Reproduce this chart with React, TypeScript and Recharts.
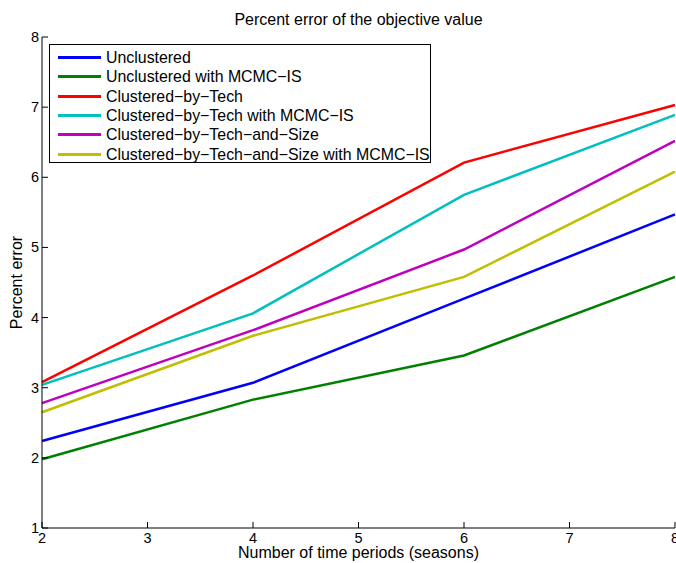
import React from 'react';
import { LineChart, Line, XAxis, YAxis, Legend, Label } from 'recharts';

// Number of time periods on the x axis
const periods = [2, 4, 6, 8];

// Percent error for each model variant
const unclustered = [2.24, 3.07, 4.27, 5.47];
const unclusteredMcmc = [1.98, 2.83, 3.46, 4.58];
const byTech = [3.08, 4.6, 6.21, 7.03];
const byTechMcmc = [3.04, 4.06, 5.75, 6.89];
const byTechSize = [2.78, 3.82, 4.97, 6.52];
const byTechSizeMcmc = [2.65, 3.74, 4.58, 6.08];

const xTicks = [2, 3, 4, 5, 6, 7, 8];
const yTicks = [1, 2, 3, 4, 5, 6, 7, 8];

const chartTitle = 'Percent error of the objective value';

const seriesNames = [
  'Unclustered',
  'Unclustered with MCMC\u2212IS',
  'Clustered\u2212by\u2212Tech',
  'Clustered\u2212by\u2212Tech with MCMC\u2212IS',
  'Clustered\u2212by\u2212Tech\u2212and\u2212Size',
  'Clustered\u2212by\u2212Tech\u2212and\u2212Size with MCMC\u2212IS',
];
const seriesValues = [unclustered, unclusteredMcmc, byTech, byTechMcmc, byTechSize, byTechSizeMcmc];
const seriesColors = ['#0000ff', '#008000', '#ff0000', '#00bfbf', '#bf00bf', '#bfbf00'];
const seriesKeys = ['s0', 's1', 's2', 's3', 's4', 's5'];

const data = periods.map((t, i) => {
  const row: Record<string, number> = { t };
  seriesKeys.forEach((k, j) => {
    row[k] = seriesValues[j][i];
  });
  return row;
});

const FONT = '"Liberation Sans", Arial, Helvetica, sans-serif';
const TICK_LEN = 6;

const BottomTick = (props: any) => {
  const { x, y, payload } = props;
  return (
    <g>
      <line x1={x} x2={x} y1={y} y2={y - TICK_LEN} stroke="#000" strokeWidth={1} />
      <text x={x} y={y + 14.5} textAnchor="middle" fontSize={14.5} fontFamily={FONT} fill="#000">
        {payload.value}
      </text>
    </g>
  );
};

const TopTick = (props: any) => {
  const { x, y } = props;
  return <line x1={x} x2={x} y1={y} y2={y + TICK_LEN} stroke="#000" strokeWidth={1} />;
};

const LeftTick = (props: any) => {
  const { x, y, payload } = props;
  return (
    <g>
      <line x1={x} x2={x + TICK_LEN} y1={y} y2={y} stroke="#000" strokeWidth={1} />
      <text x={x - 3} y={y + 5} textAnchor="end" fontSize={14.5} fontFamily={FONT} fill="#000">
        {payload.value}
      </text>
    </g>
  );
};

const RightTick = (props: any) => {
  const { x, y } = props;
  return <line x1={x} x2={x - TICK_LEN} y1={y} y2={y} stroke="#000" strokeWidth={1} />;
};

const LegendBox = () => (
  <div
    style={{
      boxSizing: 'border-box',
      width: 382,
      height: 119,
      border: '1px solid #000',
      background: '#fff',
      paddingTop: 3,
      fontFamily: FONT,
      fontSize: 15.9,
      color: '#000',
    }}
  >
    {seriesNames.map((name, i) => (
      <div key={name} style={{ display: 'flex', alignItems: 'center', height: 19.33, lineHeight: '19.33px', whiteSpace: 'nowrap' }}>
        <div style={{ width: 43, height: 3, background: seriesColors[i], marginLeft: 8, marginRight: 5 }} />
        <span>{name}</span>
      </div>
    ))}
  </div>
);

export default function App() {
  return (
    <div style={{ position: 'absolute', left: 0, top: 0, width: 676, height: 563, background: '#fff', fontFamily: FONT }}>
      <svg
        width={676}
        height={34}
        style={{ position: 'absolute', left: 0, top: 0, pointerEvents: 'none' }}
      >
        <text x={358.5} y={25} textAnchor="middle" fontSize={16} fontFamily={FONT} fill="#000">
          {chartTitle}
        </text>
      </svg>
      <LineChart width={676} height={563} data={data} margin={{ top: 37, right: 1, bottom: 0, left: 0 }}>
        <XAxis
          dataKey="t"
          type="number"
          domain={[2, 8]}
          ticks={xTicks}
          interval={0}
          height={35}
          tickSize={0}
          tickMargin={0}
          tick={<BottomTick />}
          axisLine={{ stroke: '#000', strokeWidth: 1 }}
        >
          <Label
            content={(p: any) => {
              const vb = p.viewBox;
              return (
                <text x={vb.x + vb.width / 2} y={vb.y + 30} textAnchor="middle" fontSize={16} fontFamily={FONT} fill="#000">
                  Number of time periods (seasons)
                </text>
              );
            }}
          />
        </XAxis>
        <XAxis
          xAxisId="top"
          orientation="top"
          dataKey="t"
          type="number"
          domain={[2, 8]}
          ticks={xTicks}
          interval={0}
          height={0}
          tickSize={0}
          tickMargin={0}
          tick={<TopTick />}
          axisLine={{ stroke: '#000', strokeWidth: 1 }}
        />
        <YAxis
          type="number"
          domain={[1, 8]}
          ticks={yTicks}
          interval={0}
          width={42}
          tickSize={0}
          tickMargin={0}
          tick={<LeftTick />}
          axisLine={{ stroke: '#000', strokeWidth: 1 }}
        >
          <Label
            content={(p: any) => {
              const vb = p.viewBox;
              const cy = vb.y + vb.height / 2;
              return (
                <text x={22} y={cy} transform={`rotate(-90, 22, ${cy})`} textAnchor="middle" fontSize={16} fontFamily={FONT} fill="#000">
                  Percent error
                </text>
              );
            }}
          />
        </YAxis>
        <YAxis
          yAxisId="right"
          orientation="right"
          type="number"
          domain={[1, 8]}
          ticks={yTicks}
          interval={0}
          width={0}
          tickSize={0}
          tickMargin={0}
          tick={<RightTick />}
          axisLine={{ stroke: '#000', strokeWidth: 1 }}
        />
        <Legend
          layout="vertical"
          align="center"
          verticalAlign="middle"
          content={() => <LegendBox />}
          wrapperStyle={{ position: 'absolute', left: 49, top: 44, width: 382, height: 119, margin: 0 }}
        />
        {seriesKeys.map((k, i) => (
          <Line
            key={k}
            type="linear"
            dataKey={k}
            name={seriesNames[i]}
            stroke={seriesColors[i]}
            strokeWidth={2.5}
            dot={false}
            activeDot={false}
            isAnimationActive={false}
          />
        ))}
      </LineChart>
    </div>
  );
}
